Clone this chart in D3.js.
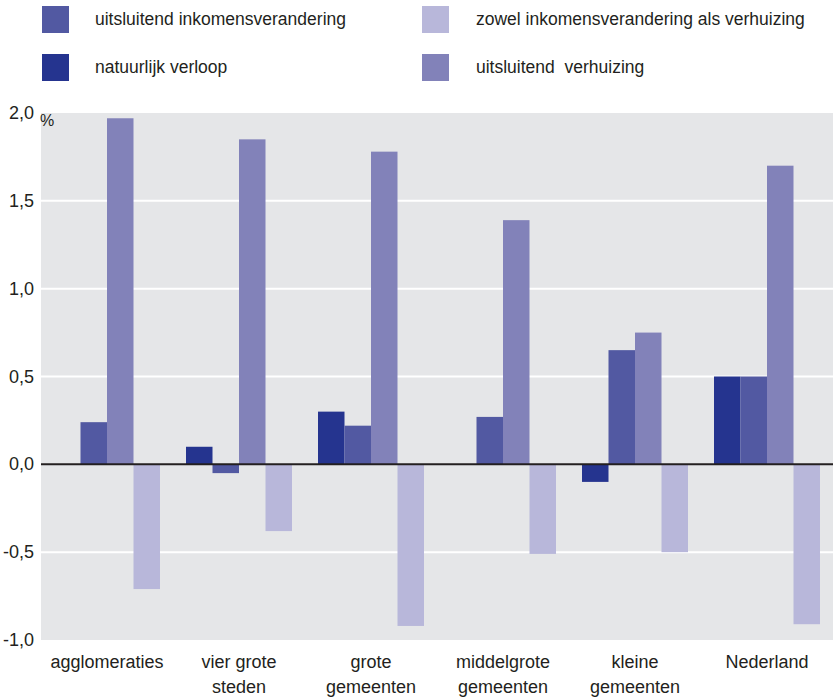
<!DOCTYPE html>
<html>
<head>
<meta charset="utf-8">
<script src="https://cdn.jsdelivr.net/npm/d3@7"></script>
<style>
  body { margin: 0; background: #fff; }
  svg text { font-family: "Liberation Sans", Arial, sans-serif; fill: #231f20; }
</style>
</head>
<body>
<svg id="chart" width="833" height="700"></svg>
<script>
// ---- data ----
var groups = ["agglomeraties", "vier grote steden", "grote gemeenten", "middelgrote gemeenten", "kleine gemeenten", "Nederland"];
var groupLines = [["agglomeraties"], ["vier grote", "steden"], ["grote", "gemeenten"], ["middelgrote", "gemeenten"], ["kleine", "gemeenten"], ["Nederland"]];
var seriesNames = ["natuurlijk verloop", "uitsluitend inkomensverandering", "uitsluitend  verhuizing", "zowel inkomensverandering als verhuizing"];
var natuurlijk = [0, 0.10, 0.30, 0, -0.10, 0.50];
var inkomens = [0.24, -0.05, 0.22, 0.27, 0.65, 0.50];
var verhuizing = [1.97, 1.85, 1.78, 1.39, 0.75, 1.70];
var zowel = [-0.71, -0.38, -0.92, -0.51, -0.50, -0.91];
var yTicks = [-1.0, -0.5, 0.0, 0.5, 1.0, 1.5, 2.0];

var colors = ["#25348f", "#5259a2", "#8282b9", "#b8b7da"];
var seriesValues = [natuurlijk, inkomens, verhuizing, zowel];

// ---- layout ----
var svg = d3.select("#chart");
var plot = {left: 41, right: 833, top: 113, bottom: 640};

var x0 = d3.scaleBand()
  .domain(groups)
  .range([plot.left, plot.right]);

var x1 = d3.scaleBand()
  .domain(d3.range(4))
  .range([13, x0.bandwidth() - 13]);

var y = d3.scaleLinear()
  .domain([-1, 2])
  .range([plot.bottom, plot.top]);

// background
svg.append("rect")
  .attr("x", plot.left)
  .attr("y", plot.top)
  .attr("width", plot.right - plot.left)
  .attr("height", plot.bottom - plot.top)
  .attr("fill", "#e5e6e8");

// white gridlines
svg.append("g")
  .selectAll("line")
  .data(yTicks.filter(d => d !== 0 && d !== -1 && d !== 2))
  .enter()
  .append("line")
    .attr("x1", plot.left)
    .attr("x2", plot.right)
    .attr("y1", d => y(d))
    .attr("y2", d => y(d))
    .attr("stroke", "#fff")
    .attr("stroke-width", 2);

// y axis labels
var fmt = d => d3.format(".1f")(d).replace(".", ",").replace("\u2212", "-");
svg.append("g")
  .selectAll("text")
  .data(yTicks)
  .enter()
  .append("text")
    .attr("x", 34)
    .attr("y", d => y(d) + 6)
    .attr("text-anchor", "end")
    .attr("font-size", 18)
    .text(fmt);

svg.append("text")
  .attr("x", 40)
  .attr("y", y(2) + 13)
  .attr("font-size", 16)
  .text("%");

// bars
var rows = [];
groups.forEach(function(g, gi) {
  seriesValues.forEach(function(vals, si) {
    rows.push({group: g, series: si, value: vals[gi]});
  });
});

svg.append("g")
  .selectAll(".bar")
  .data(rows.filter(d => d.value !== 0))
  .enter()
  .append("rect")
    .classed("bar", true)
    .attr("x", d => x0(d.group) + x1(d.series))
    .attr("width", x1.bandwidth())
    .attr("y", d => y(Math.max(0, d.value)))
    .attr("height", d => Math.abs(y(d.value) - y(0)))
    .attr("fill", d => colors[d.series]);

// zero line
svg.append("line")
  .attr("x1", plot.left)
  .attr("x2", plot.right)
  .attr("y1", y(0))
  .attr("y2", y(0))
  .attr("stroke", "#231f20")
  .attr("stroke-width", 2);

// category labels
var cat = svg.append("g")
  .selectAll("text")
  .data(groups)
  .enter()
  .append("text")
    .attr("x", d => x0(d) + x0.bandwidth() / 2)
    .attr("y", 668)
    .attr("text-anchor", "middle")
    .attr("font-size", 18);

cat.selectAll("tspan")
  .data((d, i) => groupLines[i])
  .enter()
  .append("tspan")
    .attr("x", function() { return d3.select(this.parentNode).attr("x"); })
    .attr("dy", (d, i) => i === 0 ? 0 : 25)
    .text(d => d);

// legend
var legendItems = [
  {series: 1, x: 42, y: 6},
  {series: 0, x: 42, y: 54},
  {series: 3, x: 422, y: 6},
  {series: 2, x: 422, y: 54}
];

var legend = svg.append("g")
  .selectAll("g")
  .data(legendItems)
  .enter()
  .append("g")
    .attr("transform", d => "translate(" + d.x + "," + d.y + ")");

legend.append("rect")
  .attr("width", 27)
  .attr("height", 27)
  .attr("fill", d => colors[d.series]);

legend.append("text")
  .attr("x", d => d.x < 100 ? 53 : 54)
  .attr("y", 19)
  .attr("font-size", 17.5)
  .style("white-space", "pre")
  .text(d => seriesNames[d.series]);
</script>
</body>
</html>
